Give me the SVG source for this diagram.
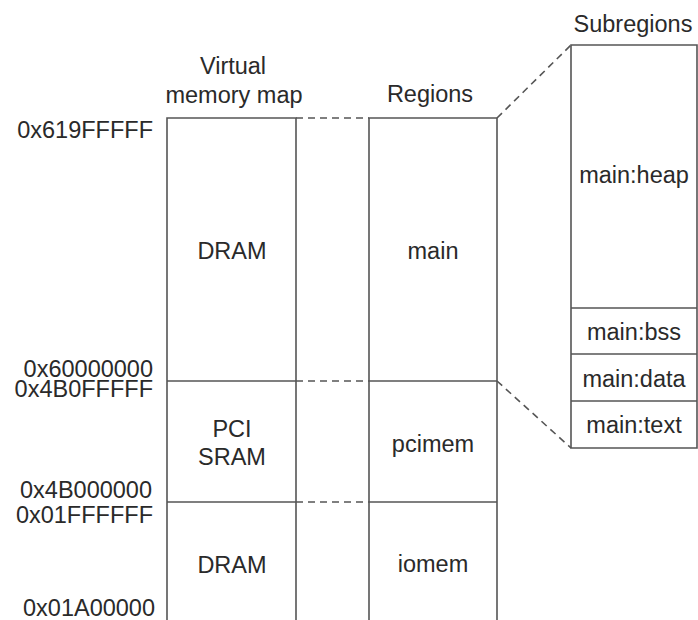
<svg xmlns="http://www.w3.org/2000/svg" width="698" height="620" viewBox="0 0 698 620">
<style>
text{font-family:"Liberation Sans",Arial,sans-serif;font-size:23.5px;fill:#2a2a2a}
.c{text-anchor:middle}
.r{text-anchor:end}
.box{fill:none;stroke:#555;stroke-width:1.6}
.dash{fill:none;stroke:#555;stroke-width:1.6;stroke-dasharray:7 5}
</style>
<rect width="698" height="620" fill="#fff"/>
<g id="headers">
<text class="c" x="233" y="74">Virtual</text>
<text class="c" x="234" y="103">memory map</text>
<text class="c" x="430" y="102">Regions</text>
<text class="c" x="633" y="32">Subregions</text>
</g>
<g id="addresses">
<text class="r" x="153" y="138">0x619FFFFF</text>
<text class="r" x="153" y="377">0x60000000</text>
<text class="r" x="153" y="397">0x4B0FFFFF</text>
<text class="r" x="152" y="498">0x4B000000</text>
<text class="r" x="153" y="523">0x01FFFFFF</text>
<text class="r" x="155" y="616">0x01A00000</text>
</g>
<g id="vmap">
<path class="box" d="M167,620 V118 H296 V620 M167,381 H296 M167,502 H296"/>
<text class="c" x="232" y="259">DRAM</text>
<text class="c" x="232" y="437">PCI</text>
<text class="c" x="232" y="465">SRAM</text>
<text class="c" x="232" y="573">DRAM</text>
</g>
<g id="regions">
<path class="box" d="M369,620 V118 H497 V620 M369,381 H497 M369,502 H497"/>
<text class="c" x="433" y="259">main</text>
<text class="c" x="433" y="452">pcimem</text>
<text class="c" x="433" y="572">iomem</text>
</g>
<g id="subregions">
<path class="box" d="M571,45 H697 V448 H571 Z M571,308 H697 M571,354 H697 M571,401 H697"/>
<text class="c" x="634" y="183">main:heap</text>
<text class="c" x="634" y="340">main:bss</text>
<text class="c" x="634" y="387">main:data</text>
<text class="c" x="634" y="433">main:text</text>
</g>
<g id="connectors">
<path class="dash" d="M296,118 H369 M296,381 H369 M296,502 H369"/>
<path class="dash" d="M497,118 L571,45 M497,381 L571,448"/>
</g>
</svg>
